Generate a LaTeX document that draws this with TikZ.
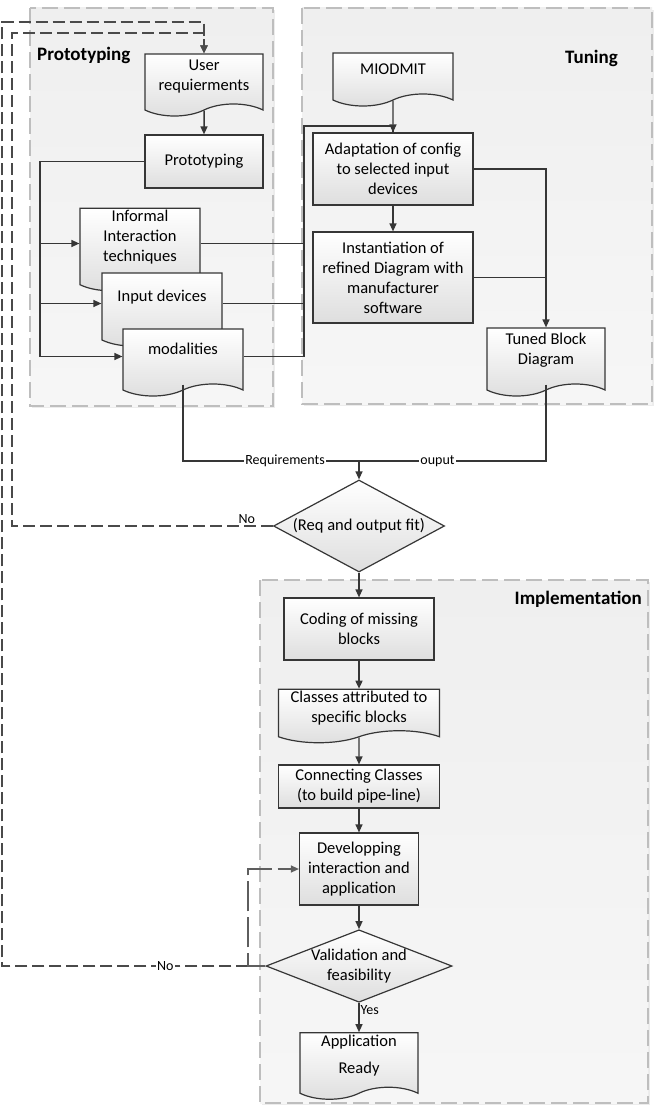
\documentclass[tikz,border=0pt]{standalone}
\usepackage{fontspec}
\setmainfont{Carlito}
\usetikzlibrary{shapes.geometric, shapes.symbols, arrows.meta, positioning, shadows}

\definecolor{linegray}{HTML}{363636}
\definecolor{groupline}{HTML}{BEBEBE}
\definecolor{groupfill}{HTML}{EFEFEF}
\definecolor{nodeshade}{HTML}{DEDEDE}

\tikzstyle{group} = [draw=groupline, line width=2.6pt, dash pattern=on 16pt off 6pt, top color=groupfill, bottom color=groupfill!55, drop shadow={opacity=0.15, shadow xshift=2pt, shadow yshift=-2pt}]
\tikzstyle{grouplabel} = [font=\fontsize{19}{22}\selectfont\bfseries, inner sep=0pt]
\tikzstyle{process} = [rectangle, draw=linegray, line width=1.2pt, top color=white, bottom color=nodeshade, align=center, inner sep=2pt, font=\fontsize{16.5}{20}\selectfont]
\tikzstyle{document} = [tape, tape bend top=none, tape bend height=12pt, draw=linegray, line width=1.2pt, top color=white, bottom color=nodeshade, align=center, inner sep=2pt, text depth=15pt, font=\fontsize{16.5}{20}\selectfont]
\tikzstyle{decision} = [diamond, draw=linegray, line width=1.2pt, top color=white, bottom color=nodeshade, align=center, inner sep=0pt, font=\fontsize{16.5}{20}\selectfont]
\tikzstyle{arrow} = [line width=1.2pt, draw=linegray, -{Triangle[length=8pt, width=7pt]}]
\tikzstyle{wire} = [line width=1.2pt, draw=linegray]
\tikzstyle{loopback} = [line width=2pt, draw=linegray!90, dash pattern=on 12pt off 5pt, -{Triangle[length=8pt, width=7pt]}]
\tikzstyle{retry} = [line width=1.3pt, draw=linegray!80, dash pattern=on 30pt off 6pt, -{Triangle[length=8pt, width=7pt]}]
\tikzstyle{lbl} = [font=\fontsize{14}{16}\selectfont, fill=white, inner sep=1pt]

\begin{document}
\begin{tikzpicture}[x=1pt, y=-1pt, node distance=90pt]

\useasboundingbox (0,0) rectangle (654,1108);
\fill[white] (0,0) rectangle (654,1108);

% groups
\draw[group] (30,8) rectangle (273,406);
\draw[group] (302,8) rectangle (652,404);
\draw[group] (260,580) rectangle (648,1103);
\node (protoLbl) [grouplabel, anchor=west] at (37,55) {Prototyping};
\node (tuneLbl) [grouplabel, anchor=east] at (618,58) {Tuning};
\node (implLbl) [grouplabel, anchor=east] at (642,599) {Implementation};

% prototyping
\node (user) [document, minimum width=118pt, minimum height=62pt, text depth=8pt] at (204,79) {User\\requierments};
\node (proto) [process, minimum width=118pt, minimum height=53pt, below of=user, yshift=7.5pt] {Prototyping};
\node (inform) [document, minimum width=120pt, minimum height=73pt] at (140,243.5) {Informal\\Interaction\\techniques};
\node (input) [document, minimum width=120pt, minimum height=73pt] at (162,303.5) {Input devices};
\node (modal) [document, minimum width=120pt, minimum height=67pt] at (183,356.5) {modalities};

% tuning
\node (miod) [document, minimum width=120pt, minimum height=53pt, text depth=8pt] at (393,73.5) {MIODMIT};
\node (adapt) [process, minimum width=160pt, minimum height=72pt, below of=miod, yshift=-5.5pt] {Adaptation of config\\to selected input\\devices};
\node (instant) [process, minimum width=160pt, minimum height=91pt, below of=adapt, yshift=-18.5pt] {Instantiation of\\refined Diagram with\\manufacturer\\software};
\node (tuned) [document, minimum width=118pt, minimum height=68pt] at (546,356) {Tuned Block\\Diagram};

% check
\node (fit) [decision, aspect=2, minimum width=171pt, minimum height=92pt] at (359,526) {(Req and output fit)};

% implementation
\node (coding) [process, minimum width=150pt, minimum height=62pt, below of=fit, yshift=-13pt] {Coding of missing\\blocks};
\node (classes) [document, minimum width=161pt, minimum height=46pt, text depth=6pt, below of=coding, yshift=9pt] {Classes attributed to\\specific blocks};
\node (connect) [process, minimum width=161pt, minimum height=43pt, below of=classes, yshift=13.5pt] {Connecting Classes\\(to build pipe-line)};
\node (dev) [process, minimum width=119pt, minimum height=72pt, below of=connect, yshift=7.5pt] {Developping\\interaction and\\application};
\node (valid) [decision, aspect=2.5, minimum width=186pt, minimum height=72pt, below of=dev, yshift=-7pt] {Validation and\\feasibility};
\node (app) [document, minimum width=118pt, minimum height=56pt, text depth=12pt, below of=valid, yshift=-4pt] {Application\\[7pt]Ready};

% prototyping links
\coordinate (protoBus) at (40,0);
\draw [arrow, line width=1.5pt] (user) -- (proto);
\draw [wire] (proto.west) -| (modal.west -| protoBus);
\draw [arrow] (inform.west -| protoBus) -- (inform.west);
\draw [arrow] (input.west -| protoBus) -- (input.west);
\draw [arrow] (modal.west -| protoBus) -- (modal.west);

% tuning links
\coordinate (tuneBus) at (304,126);
\draw [wire] (modal.east) -| (tuneBus) -| (adapt.north);
\draw [wire] (inform.east) -- (inform.east -| tuneBus);
\draw [wire] (input.east) -- (input.east -| tuneBus);
\draw [arrow] (miod) -- (adapt);
\draw [arrow] (adapt) -- (instant);
\draw [arrow] (adapt.east) -| (tuned.north);
\draw [wire] (instant.east) -- (instant.east -| tuned.north);

% merge into check
\coordinate (merge) at (359,461);
\draw [wire] (modal.south) |- node (reqLbl) [lbl, pos=0.79] {Requirements} (merge);
\draw [wire] (tuned.south) |- node (outLbl) [lbl, pos=0.79] {ouput} (merge);
\draw [arrow] (merge) -- (fit.north);

% implementation links
\draw [arrow] (fit) -- (coding);
\draw [arrow, line width=1.6pt] (coding) -- (classes);
\draw [arrow] (classes) -- (connect);
\draw [arrow] (connect) -- (dev);
\draw [arrow] (dev) -- (valid);
\draw [arrow] (valid) -- node (yesLbl) [lbl, fill=none, anchor=west, pos=0.25] {Yes} (app);

% loops back
\coordinate (loopIn) at (12,33);
\coordinate (loopOut) at (2,22);
\coordinate (devLoop) at (248,0);
\draw [loopback] (fit.west) -- node (noFit) [lbl, fill=none, above, pos=0.1] {No} (fit.west -| loopIn) -- (loopIn) -| (user.north);
\draw [loopback] (valid.west) -- node (noValid) [lbl, pos=0.38] {No} (valid.west -| loopOut) -- (loopOut) -| (user.north);
\draw [retry] (valid.west) -- (valid.west -| devLoop) |- (dev.west);

\end{tikzpicture}
\end{document}
